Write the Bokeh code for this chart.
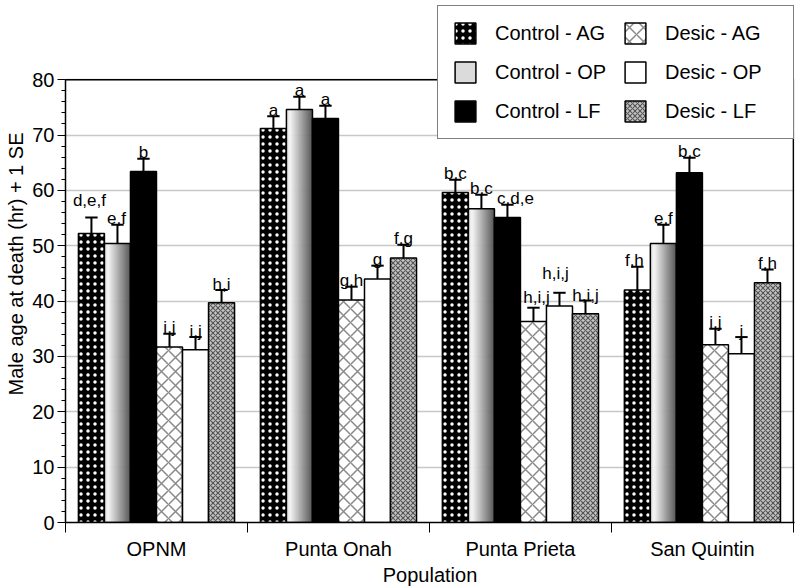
import numpy as np
from bokeh.plotting import figure
from bokeh.models import Range1d, FixedTicker, Legend, LegendItem, ColumnDataSource
from bokeh.core.properties import value
from bokeh.embed import file_html
from bokeh.resources import INLINE

# ---------------- data ----------------
populations = ["OPNM", "Punta Onah", "Punta Prieta", "San Quintin"]
series_names = ["Control - AG", "Control - OP", "Control - LF",
                "Desic - AG", "Desic - OP", "Desic - LF"]

control_ag = [52.2, 71.2, 59.6, 42.0]
control_op = [50.4, 74.6, 56.7, 50.4]
control_lf = [63.4, 73.0, 55.1, 63.2]
desic_ag = [31.7, 40.2, 36.3, 32.1]
desic_op = [31.2, 44.0, 39.1, 30.5]
desic_lf = [39.7, 47.8, 37.7, 43.3]

control_ag_se = [2.9, 2.2, 2.3, 4.2]
control_op_se = [3.4, 2.3, 2.5, 3.4]
control_lf_se = [2.3, 2.3, 2.3, 2.7]
desic_ag_se = [2.4, 2.4, 2.5, 2.9]
desic_op_se = [2.3, 2.4, 2.4, 3.0]
desic_lf_se = [2.3, 2.4, 2.4, 2.4]

control_ag_lbl = ["d,e,f", "a", "b,c", "f,h"]
control_op_lbl = ["e,f", "a", "b,c", "e,f"]
control_lf_lbl = ["b", "a", "c,d,e", "b,c"]
desic_ag_lbl = ["i,j", "g,h", "h,i,j", "i,j"]
desic_op_lbl = ["i,j", "g", "h,i,j", "j"]
desic_lf_lbl = ["h,i", "f,g", "h,i,j", "f,h"]

y_ticks = [0, 10, 20, 30, 40, 50, 60, 70, 80]
y_max_tick = 80

values = [control_ag, control_op, control_lf, desic_ag, desic_op, desic_lf]
errors = [control_ag_se, control_op_se, control_lf_se, desic_ag_se, desic_op_se, desic_lf_se]
letters = [control_ag_lbl, control_op_lbl, control_lf_lbl, desic_ag_lbl, desic_op_lbl, desic_lf_lbl]

# ---------------- style ----------------
FONT = "Liberation Sans"
BAR_W = 0.143
CAP_HALF = 0.034
LABEL_LIFT = 6
Y_TOP = 93.4      # extra head-room above the 80 line for the legend box
X_END = 4.006
label_lift_extra = [[11, 0, 0, 0], [0, 0, 0, 0], [0, 0, 0, 0],
                    [0, 0, 4, 0], [0, 0, 13, 0], [0, 0, -1, 0]]
label_dx = [[-2, 0, 0, -3], [-1, 0, 0, 0], [0, 0, 8, 0],
            [0, 0, 3, 0], [0, 0, -4, 0], [0, 0, 0, 0]]

bar_styles = [
    dict(fill_color="black", hatch_pattern="dot", hatch_color="white", hatch_scale=7, hatch_weight=0.9),
    None,  # gradient
    dict(fill_color="black"),
    dict(fill_color="white", hatch_pattern="diagonal_cross", hatch_color="#8a8a8a", hatch_scale=14, hatch_weight=1.5),
    dict(fill_color="white"),
    dict(fill_color="#c4c4c4", hatch_pattern="diagonal_cross", hatch_color="#555555", hatch_scale=5, hatch_weight=1.1),
]


def grey_at(t):
    # light on the left, nearly white near 15 %, dark grey at the right edge
    if t < 0.15:
        g = 215 + (245 - 215) * t / 0.15
    else:
        g = 245 - (245 - 80) * (t - 0.15) / 0.85
    gi = int(round(g))
    return "#%02x%02x%02x" % (gi, gi, gi)


p = figure(width=800, height=588, x_range=Range1d(0, X_END), y_range=Range1d(0, Y_TOP),
           output_backend="svg", toolbar_location=None,
           min_border_left=65, min_border_right=6, min_border_top=5, min_border_bottom=40)
p.outline_line_color = None
p.background_fill_color = "white"
p.border_fill_color = "white"

# axes
p.yaxis.ticker = FixedTicker(ticks=y_ticks, minor_ticks=list(range(0, 81, 2)))
p.yaxis.bounds = (0, y_max_tick)
p.yaxis.major_tick_out = 8
p.yaxis.major_tick_in = 0
p.yaxis.minor_tick_out = 4
p.yaxis.minor_tick_in = 0
p.yaxis.axis_label = "Male age at death (hr) + 1 SE"
p.yaxis.axis_label_standoff = 2
p.yaxis.major_label_standoff = 3

centers = [i + 0.5 for i in range(len(populations))]
p.xaxis.ticker = FixedTicker(ticks=centers, minor_ticks=list(range(len(populations) + 1)))
p.xaxis.major_label_overrides = {c: name for c, name in zip(centers, populations)}
p.xaxis.major_tick_line_color = None
p.xaxis.major_tick_out = 0
p.xaxis.major_tick_in = 0
p.xaxis.minor_tick_out = 10
p.xaxis.minor_tick_in = 0
p.xaxis.minor_tick_line_color = "black"
p.xaxis.axis_label = "Population"
p.xaxis.major_label_standoff = 5
p.xaxis.axis_label_standoff = 1

for ax in (p.xaxis[0], p.yaxis[0]):
    ax.axis_line_color = "black"
    ax.axis_line_width = 1.5
    ax.major_label_text_font = FONT
    ax.major_label_text_font_size = "20px"
    ax.major_label_text_color = "black"
    ax.axis_label_text_font = FONT
    ax.axis_label_text_font_size = "20px"
    ax.axis_label_text_font_style = "normal"
    ax.axis_label_text_color = "black"

p.xgrid.visible = False
p.ygrid.ticker = FixedTicker(ticks=y_ticks[1:])
p.ygrid.grid_line_color = "#c8c8c8"
p.ygrid.grid_line_width = 1.5

# frame lines (top at 80, right edge)
n_groups = len(populations)
p.segment(x0=[0, n_groups], y0=[y_max_tick, 0], x1=[n_groups, n_groups], y1=[y_max_tick, y_max_tick],
          line_color="black", line_width=1.5)

legend_renderers = []
n_slices = 26
for k, (vals, ses, lbls) in enumerate(zip(values, errors, letters)):
    off = (k - 2.5) * BAR_W
    xs = [c + off for c in centers]
    if bar_styles[k] is None:
        # horizontal grey gradient: one quad renderer holding thin vertical slices
        left, right, top, col = [], [], [], []
        dw = BAR_W / n_slices
        for x, v in zip(xs, vals):
            for s in range(n_slices):
                left.append(x - BAR_W / 2 + s * dw)
                right.append(x - BAR_W / 2 + (s + 1) * dw + dw * 0.15)
                top.append(v)
                col.append(grey_at((s + 0.5) / n_slices))
        src = ColumnDataSource(dict(left=left, right=right, top=top,
                                    bottom=[0] * len(top), color=col))
        rq = p.quad(left="left", right="right", top="top", bottom="bottom", source=src,
                    fill_color="color", line_color="color", line_width=0.5)
        ro = p.vbar(x=xs, top=vals, bottom=0, width=BAR_W, fill_color=None,
                    line_color="black", line_width=1.5)
        legend_renderers.append([rq, ro])
    else:
        r = p.vbar(x=xs, top=vals, bottom=0, width=BAR_W, line_color="black",
                   line_width=1.5, **bar_styles[k])
        legend_renderers.append([r])

    tops = [v + e for v, e in zip(vals, ses)]
    p.segment(x0=xs, y0=vals, x1=xs, y1=tops, line_color="black", line_width=2)
    p.segment(x0=[x - CAP_HALF for x in xs], y0=tops, x1=[x + CAP_HALF for x in xs],
              y1=tops, line_color="black", line_width=2)
    for j in range(len(xs)):
        p.text(x=[xs[j]], y=[tops[j]], text=[lbls[j]],
               x_offset=label_dx[k][j], y_offset=-(LABEL_LIFT + label_lift_extra[k][j]),
               text_align="center", text_baseline="alphabetic",
               text_font=value(FONT), text_font_size="17px", text_color="black")

items = [LegendItem(label=n, renderers=rs) for n, rs in zip(series_names, legend_renderers)]
legend = Legend(items=items, location="top_right", orientation="vertical", nrows=3,
                glyph_width=26, glyph_height=26, label_standoff=17, spacing=13, padding=14,
                margin=0, label_text_font=FONT, label_text_font_size="20px", label_text_color="black",
                label_width=114, border_line_color="black", border_line_width=1.5,
                background_fill_color="white", background_fill_alpha=1.0)
p.add_layout(legend, "center")

open("out.html", "w").write(file_html(p, INLINE))
